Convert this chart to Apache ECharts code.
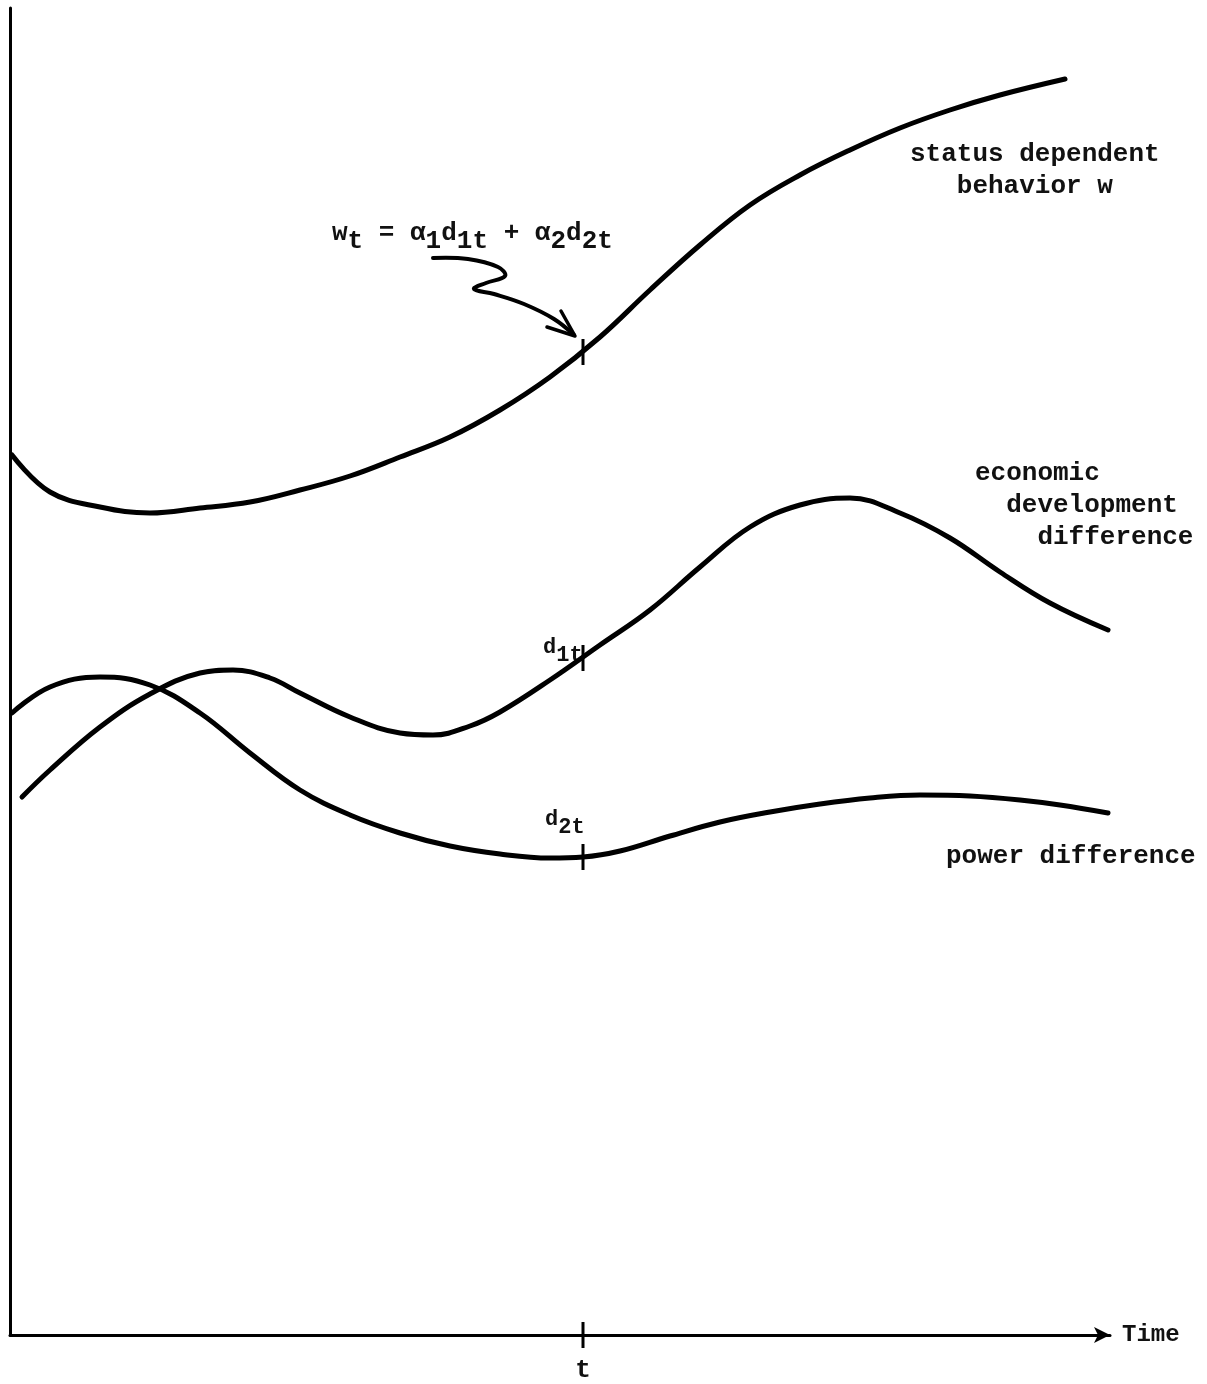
<!DOCTYPE html>
<html>
<head>
<meta charset="utf-8">
<title>status dependent behavior</title>
<script src="https://cdn.jsdelivr.net/npm/echarts@6/dist/echarts.min.js"></script>
<style>
  html, body { margin: 0; padding: 0; background: #fff; }
  #chart { width: 1207px; height: 1384px; }
</style>
</head>
<body>
<div id="chart"></div>
<script>
// 曲线数据 [time, level]
const statusW = [
  [2, 880], [40, 843], [90, 828], [140, 822], [190, 827], [240, 833], [290, 845],
  [340, 859], [390, 878], [440, 898], [490, 925], [540, 958], [590, 998], [640, 1045],
  [690, 1090], [740, 1130], [790, 1160], [840, 1185], [890, 1207], [940, 1225],
  [990, 1240], [1055, 1256]
];
const econDiff = [
  [12, 538], [40, 565], [90, 608], [140, 641], [190, 662], [223, 665], [260, 657],
  [290, 642], [340, 618], [390, 602], [423, 600], [460, 609], [490, 623], [540, 655],
  [590, 690], [640, 725], [690, 768], [740, 808], [790, 830], [840, 837], [890, 822],
  [940, 797], [990, 763], [1040, 732], [1098, 705]
];
const powerDiff = [
  [2, 622], [40, 648], [90, 658], [140, 650], [190, 622], [240, 582], [290, 545],
  [340, 520], [390, 502], [440, 489], [490, 481], [540, 477], [573, 478], [610, 484],
  [660, 499], [710, 513], [760, 523], [810, 531], [860, 537], [910, 540], [960, 539],
  [1010, 535], [1050, 530], [1098, 522]
];

// 时刻 t 以及各曲线在 t 处的值（最后一个是横轴）
const markT = 573;
const markLevels = [983, 677, 478, 0];
const xLabels = ['t'];

const FONT = 'Liberation Mono';

const chart = echarts.init(document.getElementById('chart'));

const curve = (name, data) => ({
  name: name,
  type: 'line',
  data: data,
  smooth: 0.4,
  showSymbol: false,
  symbol: 'none',
  lineStyle: { color: '#000', width: 5, cap: 'round' },
  silent: true
});

chart.setOption({
  backgroundColor: '#fff',
  animation: false,
  grid: { left: 10, top: 8, width: 1100, height: 1327 },
  xAxis: {
    type: 'value',
    min: 0,
    max: 1100,
    name: 'Time',
    nameLocation: 'end',
    nameGap: 12,
    nameTextStyle: { fontFamily: FONT, fontWeight: 'bold', fontSize: 24, color: '#111' },
    axisLine: { lineStyle: { color: '#000', width: 3 }, symbol: ['none', 'arrow'], symbolSize: [12, 16] },
    axisTick: { show: false },
    splitLine: { show: false },
    axisLabel: {
      customValues: [markT],
      formatter: () => xLabels[0],
      margin: 22,
      fontFamily: FONT,
      fontWeight: 'bold',
      fontSize: 26,
      color: '#111'
    }
  },
  yAxis: {
    type: 'value',
    min: 0,
    max: 1327,
    axisLine: { show: true, lineStyle: { color: '#000', width: 3 } },
    axisTick: { show: false },
    axisLabel: { show: false },
    splitLine: { show: false }
  },
  series: [
    curve('status dependent behavior w', statusW),
    curve('economic development difference', econDiff),
    curve('power difference', powerDiff),
    {
      // t 处的小竖线
      type: 'custom',
      silent: true,
      data: markLevels.map(v => [markT, v]),
      renderItem: (params, api) => {
        const p = api.coord([api.value(0), api.value(1)]);
        return {
          type: 'line',
          shape: { x1: p[0], y1: p[1] - 13, x2: p[0], y2: p[1] + 13 },
          style: { stroke: '#000', lineWidth: 3 }
        };
      }
    }
  ],
  graphic: [
    // 曲线说明文字
    {
      type: 'text', left: 910, top: 138,
      style: { text: 'status dependent\n   behavior w', font: `bold 26px "${FONT}"`, fill: '#111', lineHeight: 32 }
    },
    {
      type: 'text', left: 975, top: 457,
      style: { text: 'economic\n  development\n    difference', font: `bold 26px "${FONT}"`, fill: '#111', lineHeight: 32 }
    },
    {
      type: 'text', left: 946, top: 843,
      style: { text: 'power difference', font: `bold 26px "${FONT}"`, fill: '#111' }
    },
    // d1t, d2t
    {
      type: 'text', left: 543, top: 636,
      style: {
        text: '{m|d}{s|1t}',
        rich: {
          m: { font: `bold 22px "${FONT}"`, fill: '#111' },
          s: { font: `bold 22px "${FONT}"`, fill: '#111', padding: [16, 0, 0, 0] }
        }
      }
    },
    {
      type: 'text', left: 545, top: 808,
      style: {
        text: '{m|d}{s|2t}',
        rich: {
          m: { font: `bold 22px "${FONT}"`, fill: '#111' },
          s: { font: `bold 22px "${FONT}"`, fill: '#111', padding: [16, 0, 0, 0] }
        }
      }
    },
    // 公式
    {
      type: 'text', left: 332, top: 220,
      style: {
        text: '{m|w}{s|t}{m| = α}{s|1}{m|d}{s|1t}{m| + α}{s|2}{m|d}{s|2t}',
        rich: {
          m: { font: `bold 26px "${FONT}"`, fill: '#111' },
          s: { font: `bold 26px "${FONT}"`, fill: '#111', padding: [16, 0, 0, 0] }
        }
      }
    },
    // 弯曲箭头
    {
      type: 'polyline',
      shape: {
        points: [[433, 258], [468, 259], [498, 267], [505, 276], [486, 283], [474, 289],
                 [494, 294], [524, 304], [554, 319], [574, 335]],
        smooth: 0.4
      },
      style: { stroke: '#000', lineWidth: 4, fill: null, lineCap: 'round' }
    },
    {
      type: 'polyline',
      shape: { points: [[547, 327], [575, 336], [561, 311]] },
      style: { stroke: '#000', lineWidth: 3.5, fill: null, lineCap: 'round', lineJoin: 'round' }
    }
  ]
});
</script>
</body>
</html>
